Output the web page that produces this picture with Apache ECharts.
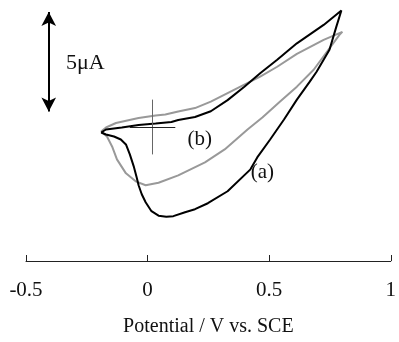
<!DOCTYPE html>
<html><head><meta charset="utf-8">
<script src="https://cdn.jsdelivr.net/npm/echarts@6/dist/echarts.min.js"></script>
<style>html,body{margin:0;padding:0;background:#fff}#c{width:399px;height:342px}</style>
</head><body><div id="c"></div>
<script>
// Potential (V vs. SCE) and current (µA) for curve (a), black
const aV = [-0.191,-0.171,-0.106,-0.037,0.033,0.098,0.126,0.195,0.260,0.329,0.398,0.463,0.533,0.614,0.724,0.797,
  0.776,0.748,0.695,0.667,0.614,0.561,0.504,0.451,0.423,0.329,0.248,0.195,0.154,0.106,0.077,0.045,0.016,-0.008,-0.024,-0.037,-0.045,-0.057,-0.073,-0.089,-0.110,-0.138,-0.171,-0.191];
const aI = [-0.25,-0.10,0.00,0.125,0.20,0.275,0.375,0.525,0.815,1.375,2.05,2.725,3.40,4.225,5.15,5.875,
  5.05,3.90,2.80,2.30,1.40,0.40,-0.60,-1.50,-2.10,-3.20,-3.80,-4.10,-4.25,-4.45,-4.475,-4.425,-4.20,-3.75,-3.35,-2.90,-2.50,-1.95,-1.35,-0.85,-0.60,-0.45,-0.35,-0.25];
// curve (b), grey
const bV = [-0.191,-0.171,-0.130,-0.037,0.033,0.073,0.126,0.195,0.260,0.329,0.398,0.463,0.533,0.614,0.724,0.801,
  0.789,0.683,0.614,0.545,0.472,0.411,0.317,0.236,0.126,0.045,-0.008,-0.049,-0.089,-0.126,-0.146,-0.167,-0.191];
const bI = [-0.20,0.00,0.225,0.475,0.60,0.65,0.80,0.975,1.30,1.725,2.15,2.55,3.05,3.70,4.40,4.80,
  4.65,2.90,2.05,1.30,0.50,-0.10,-1.10,-1.75,-2.40,-2.775,-2.90,-2.70,-2.30,-1.60,-0.95,-0.45,-0.20];
const xTicks = [-0.5, 0, 0.5, 1];
const seriesNames = ['(a)', '(b)'];
const scaleBarUA = 5;

const zip = (xs, ys) => xs.map((x, i) => [x, ys[i]]);
const font = '"Liberation Serif", "Times New Roman", serif';
const txt = (t, size) => ({show: true, position: 'inside', formatter: t, fontFamily: font, fontSize: size, color: '#111'});

const chart = echarts.init(document.getElementById('c'), null, {renderer: 'canvas'});
chart.setOption({
  animation: false,
  grid: {left: 26, right: 4, top: 0, bottom: 80},
  xAxis: {
    type: 'value', min: -0.5, max: 1, interval: 0.5,
    name: 'Potential / V vs. SCE', nameLocation: 'middle', nameGap: 56,
    nameTextStyle: {fontFamily: font, fontSize: 20, color: '#111'},
    axisLine: {onZero: false, lineStyle: {color: '#222', width: 1}},
    axisTick: {inside: true, length: 6, lineStyle: {color: '#222'}},
    axisLabel: {fontFamily: font, fontSize: 21, color: '#111', margin: 19,
      formatter: v => xTicks.includes(v) ? String(v) : ''},
    splitLine: {show: false}
  },
  yAxis: {type: 'value', min: -6.7, max: 6.4, show: false, splitLine: {show: false}},
  series: [
    {name: seriesNames[0], type: 'line', data: zip(aV, aI), showSymbol: false, symbol: 'none',
     lineStyle: {color: '#000', width: 2}, z: 3,
     markPoint: {symbol: 'circle', symbolSize: 1, itemStyle: {color: 'rgba(0,0,0,0)'}, label: txt(seriesNames[0], 21),
       data: [{coord: [0.472, -2.25]}]}},
    {name: seriesNames[1], type: 'line', data: zip(bV, bI), showSymbol: false, symbol: 'none',
     lineStyle: {color: '#999', width: 2}, z: 2,
     markPoint: {symbol: 'circle', symbolSize: 1, itemStyle: {color: 'rgba(0,0,0,0)'}, label: txt(seriesNames[1], 21),
       data: [{coord: [0.215, -0.6]}]}},
    {type: 'line', data: [], silent: true,
     markLine: {silent: true, symbol: 'none', animation: false, label: {show: false},
       data: [
         [{coord: [0.02, 1.4], lineStyle: {color: '#666', width: 1, type: 'solid'}}, {coord: [0.02, -1.35]}],
         [{coord: [-0.073, 0], lineStyle: {color: '#222', width: 1, type: 'solid'}}, {coord: [0.114, 0]}]
       ]}},
    {type: 'line', data: [], silent: true,
     markLine: {silent: true, symbol: ['arrow', 'arrow'], symbolSize: [11, 14], animation: false, label: {show: false},
       lineStyle: {color: '#000', width: 2, type: 'solid'},
       data: [[{coord: [-0.4065, 5.8]}, {coord: [-0.4065, 5.8 - scaleBarUA]}]]},
     markPoint: {symbol: 'circle', symbolSize: 1, itemStyle: {color: 'rgba(0,0,0,0)'}, label: txt(scaleBarUA + 'μA', 22),
       data: [{coord: [-0.256, 3.25]}]}}
  ]
});
</script></body></html>
